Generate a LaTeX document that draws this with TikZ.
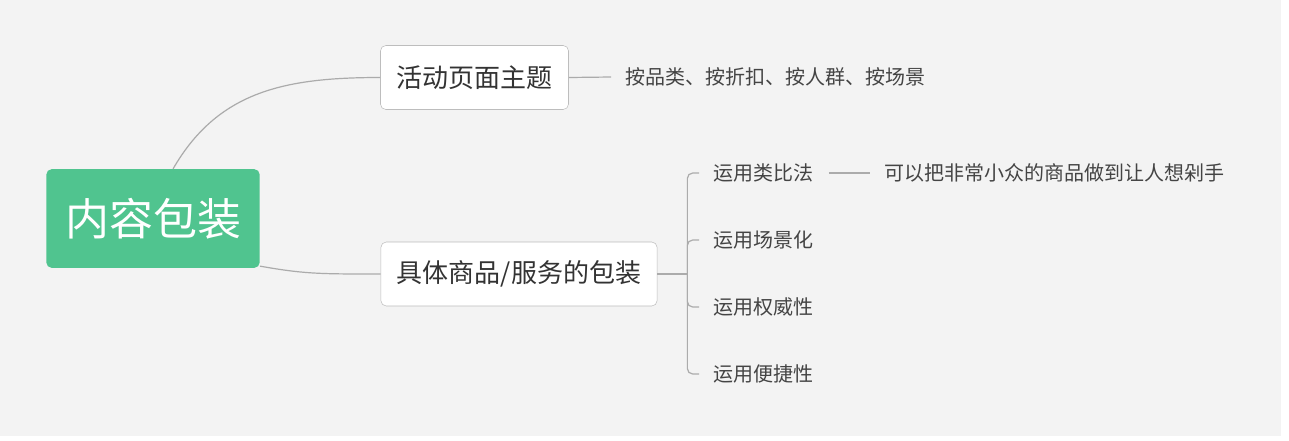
\documentclass[tikz,border=0pt]{standalone}
\usepackage{fontspec}
\setmainfont{Noto Sans CJK SC}
\usepackage{xcolor}
\usepackage{tikz}
\usetikzlibrary{positioning}
\definecolor{mmbg}{HTML}{F3F3F3}
\definecolor{mmgreen}{HTML}{50C48F}
\definecolor{mmedge}{HTML}{BDBDBD}
\definecolor{mmline}{HTML}{ABABAB}
\definecolor{mmtext}{HTML}{333333}
\definecolor{mmsub}{HTML}{444444}
\tikzset{
  rootbox/.style={rounded corners=4pt,fill=mmgreen,text=white,inner xsep=14pt,minimum height=74pt,font=\fontsize{33pt}{38pt}\selectfont},
  topic/.style={rounded corners=4pt,draw=mmedge,fill=white,text=mmtext,inner xsep=12pt,minimum height=48pt,font=\fontsize{19.5pt}{23pt}\selectfont},
  subtopic/.style={anchor=west,inner xsep=11pt,inner ysep=0pt,text=mmsub,font=\fontsize{15pt}{18pt}\selectfont},
  link/.style={draw=mmline,line width=0.9pt},
}

\begin{document}
\begin{tikzpicture}[x=0.75pt,y=-0.75pt]
  % page
  \fill[white] (0,0) rectangle (1289,440);
  \fill[mmbg] (0,0) rectangle (1281,436);
  % main nodes
  \node[rootbox] (root) at (153,218.5) {内容包装};
  \node[topic] (theme) at (474.5,77.5) {活动页面主题};
  \node[topic] (goods) at (519,274) {具体商品/服务的包装};
  \draw[link] (root.68) .. controls +(45,-78) and +(-95,0) .. (theme.west);
  \draw[link] (root.-24) .. controls +(45,8) and +(-60,0) .. (goods.west);
  % theme branch
  \node[subtopic] (themeby) at (611,77) {按品类、按折扣、按人群、按场景};
  \draw[link] (theme.east) -- (themeby.west);
  % goods branch
  \node[subtopic] (s1) at (699,173) {运用类比法};
  \node[subtopic] (s2) at (699,240) {运用场景化};
  \node[subtopic] (s3) at (699,307) {运用权威性};
  \node[subtopic] (s4) at (699,374) {运用便捷性};
  \node[subtopic] (s1x) at (870,173) {可以把非常小众的商品做到让人想剁手};
  \draw[link] (goods.east) -- ++(30,0) coordinate (fork);
  \draw[link,rounded corners=4pt] (fork) |- (s1.west);
  \draw[link,rounded corners=4pt] (fork) |- (s2.west);
  \draw[link,rounded corners=4pt] (fork) |- (s3.west);
  \draw[link,rounded corners=4pt] (fork) |- (s4.west);
  \draw[link] (s1.east) -- (s1x.west);
\end{tikzpicture}
\end{document}
